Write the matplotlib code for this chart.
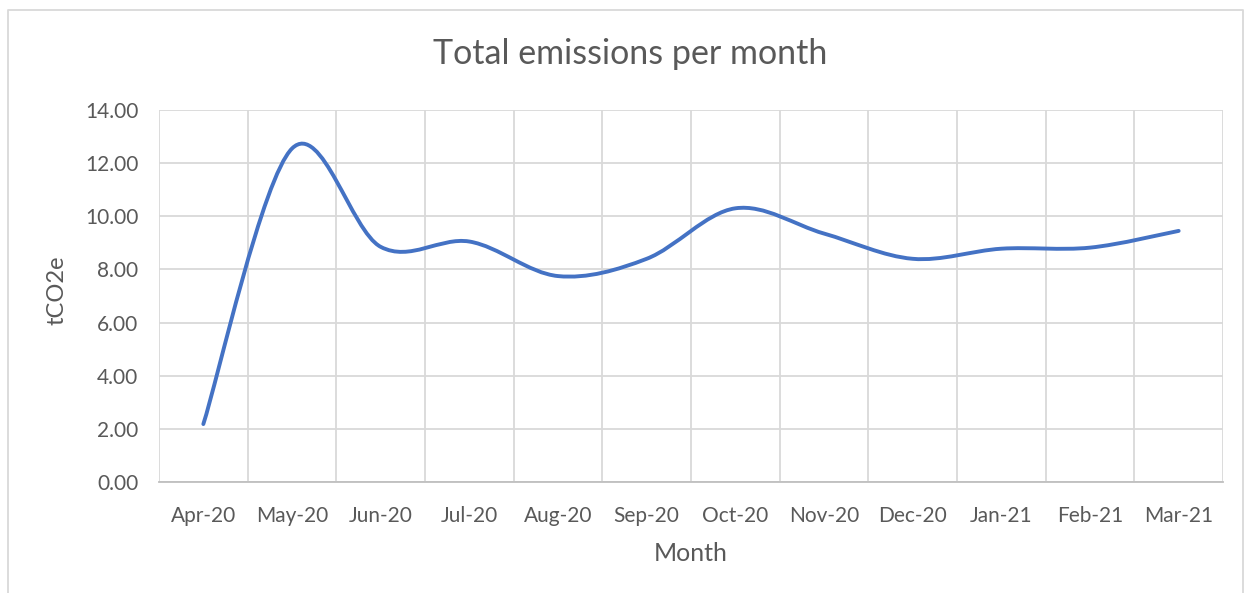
import matplotlib.pyplot as plt
import numpy as np
from matplotlib.path import Path
from matplotlib.patches import PathPatch
from matplotlib.lines import Line2D

months = ['Apr-20', 'May-20', 'Jun-20', 'Jul-20', 'Aug-20', 'Sep-20',
          'Oct-20', 'Nov-20', 'Dec-20', 'Jan-21', 'Feb-21', 'Mar-21']
emissions = [2.18, 12.55, 8.85, 9.05, 7.75, 8.40, 10.30, 9.35, 8.40, 8.78, 8.82, 9.45]
yticks = [0, 2, 4, 6, 8, 10, 12, 14]

plt.rcParams['font.family'] = ['Lato', 'DejaVu Sans']
txt = '#595959'
grid = '#D9D9D9'
blue = '#4472C4'

fig = plt.figure(figsize=(12.51, 5.93), dpi=100)
ax = fig.add_axes([159/1251, 1-482/593, (1223-159)/1251, (482-110)/593])

# smoothed line (Catmull-Rom style bezier like Excel's "smoothed line")
x = np.arange(len(emissions), dtype=float)
y = np.array(emissions)
verts = [(x[0], y[0])]
codes = [Path.MOVETO]
n = len(x)
for i in range(n - 1):
    p0 = (x[max(i-1, 0)], y[max(i-1, 0)])
    p1 = (x[i], y[i])
    p2 = (x[i+1], y[i+1])
    p3 = (x[min(i+2, n-1)], y[min(i+2, n-1)])
    c1 = (p1[0] + (p2[0]-p0[0])/6, p1[1] + (p2[1]-p0[1])/6)
    c2 = (p2[0] - (p3[0]-p1[0])/6, p2[1] - (p3[1]-p1[1])/6)
    verts += [c1, c2, p2]
    codes += [Path.CURVE4] * 3
ax.add_patch(PathPatch(Path(verts, codes), fill=False, edgecolor=blue, lw=2.8,
                       capstyle='round', joinstyle='round', zorder=3))

ax.set_xlim(-0.5, len(months)-0.5)
ax.set_ylim(0, 14)
ax.set_yticks(yticks)
ax.set_yticklabels(['%.2f' % v for v in yticks])
ax.set_xticks(x)
ax.set_xticklabels(months)
ax.set_xticks(np.arange(-0.5, len(months)), minor=True)
ax.grid(True, which='minor', axis='x', color=grid, lw=1.3)
ax.grid(True, which='major', axis='y', color=grid, lw=1.3)
ax.tick_params(which='both', length=0, labelsize=15, colors=txt)
ax.tick_params(axis='x', pad=17)
ax.tick_params(axis='y', pad=15)
for s in ['top', 'right', 'left']:
    ax.spines[s].set_visible(False)
ax.spines['bottom'].set_color('#BFBFBF')
ax.spines['bottom'].set_linewidth(1.3)
ax.set_axisbelow(True)

ax.set_xlabel('Month', fontsize=18, color=txt, labelpad=12)
ax.set_ylabel('tCO2e', fontsize=17, color=txt)
ax.yaxis.set_label_coords(-0.086, 0.515)
fig.text(630/1251, 1-54/593, 'Total emissions per month', fontsize=24.5, color=txt,
         ha='center', va='center')

# chart border
fig.add_artist(Line2D([8/1251, 8/1251, 1243/1251, 1243/1251], [0, 1-10/593, 1-10/593, 0],
                      transform=fig.transFigure, color='#D9D9D9', lw=1.3))

fig.savefig('out.png', dpi=100)
